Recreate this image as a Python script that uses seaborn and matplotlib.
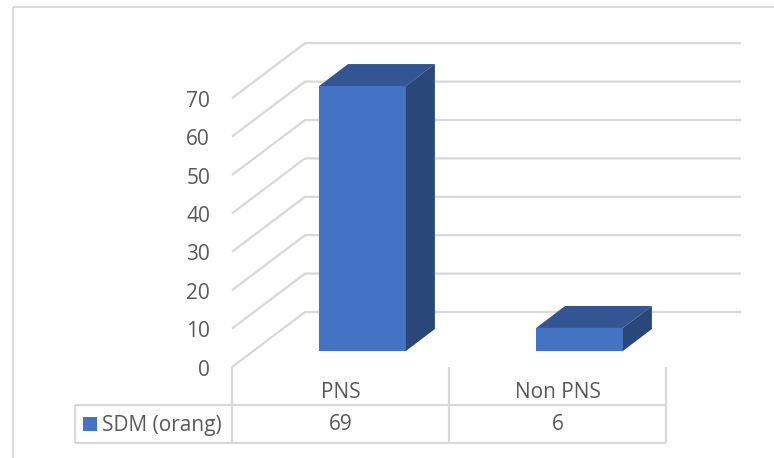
import matplotlib
matplotlib.use("Agg")
import matplotlib.pyplot as plt
import seaborn as sns
import pandas as pd
from matplotlib.patches import Polygon
from matplotlib.transforms import Affine2D

categories = ["PNS", "Non PNS"]
values = [69, 6]
series_name = "SDM (orang)"
axis_ticks = [0, 10, 20, 30, 40, 50, 60, 70]

W, H = 774, 458
FRONT = "#4472C4"
TOP = "#335593"
SIDE = "#294779"
GRID = "#D9D9D9"
TEXT = "#595959"

sns.set_theme(style="white")
plt.rcParams["font.family"] = ["Open Sans", "DejaVu Sans"]

fig = plt.figure(figsize=(W / 100, H / 100), dpi=100)
ax = fig.add_axes([0, 0, 1, 1])

# Value scale: 3.84 px per unit, category spacing 217 px.
PX_Y, PX_X = 3.84, 217.0
BASE_Y, FIRST_X = 351.0, 362.5

# Pixel-space transform for the floor, table and frame.
px = Affine2D().scale(1, -1).translate(0, H)


def line(xs, ys, lw=1.6):
    ax.plot(xs, ys, color=GRID, lw=lw, transform=px, clip_on=False, zorder=1,
            solid_capstyle="butt")


def label(x, y, s, ha="center"):
    ax.text(x, y, s, transform=px, ha=ha, va="center", color=TEXT, fontsize=15)


# Outer frame
line([13, 13], [7, H], 1.4)
line([13, W], [7, 7], 1.4)

# Back wall gridlines and their diagonals down the side wall
for t in axis_ticks:
    front_y = 367 - t * PX_Y
    line([232, 305, 741], [front_y, front_y - 55, front_y - 55])
    label(210, front_y + 3, str(t), ha="right")

# Bars through seaborn, with depth faces derived from the same values
df = pd.DataFrame({"category": categories, "value": values})
sns.barplot(data=df, x="category", y="value", color=FRONT, saturation=1, width=0.4,
            edgecolor="none", linewidth=0, ax=ax, zorder=3, legend=False)
ax.set_xlim((0 - FIRST_X) / PX_X, (W - FIRST_X) / PX_X)
ax.set_ylim((BASE_Y - H) / PX_Y, BASE_Y / PX_Y)
ax.axis("off")

dx, dy = 29 / PX_X, 22 / PX_Y
half = 0.2
for i, v in enumerate(values):
    l, r = i - half, i + half
    ax.add_patch(Polygon([(l, v), (r, v), (r + dx, v + dy), (l + dx, v + dy)],
                         facecolor=TOP, edgecolor="none", zorder=3))
    ax.add_patch(Polygon([(r, 0), (r + dx, dy), (r + dx, v + dy), (r, v)],
                         facecolor=SIDE, edgecolor="none", zorder=3))

# Data table beneath the plot
line([232, 232], [367, 443])
line([449, 449], [367, 443])
line([666, 666], [367, 443])
line([75, 666], [405, 405])
line([75, 666], [443, 443])
line([75, 75], [405, 443])
for x, c, v in zip([340.5, 557.5], categories, values):
    label(x, 393, c)
    label(x, 425, str(v))
ax.add_patch(plt.Rectangle((83, 417), 14, 14, facecolor=FRONT, edgecolor="none",
                           transform=px, clip_on=False))
label(102, 425, series_name, ha="left")

fig.savefig("out.png", dpi=100)
